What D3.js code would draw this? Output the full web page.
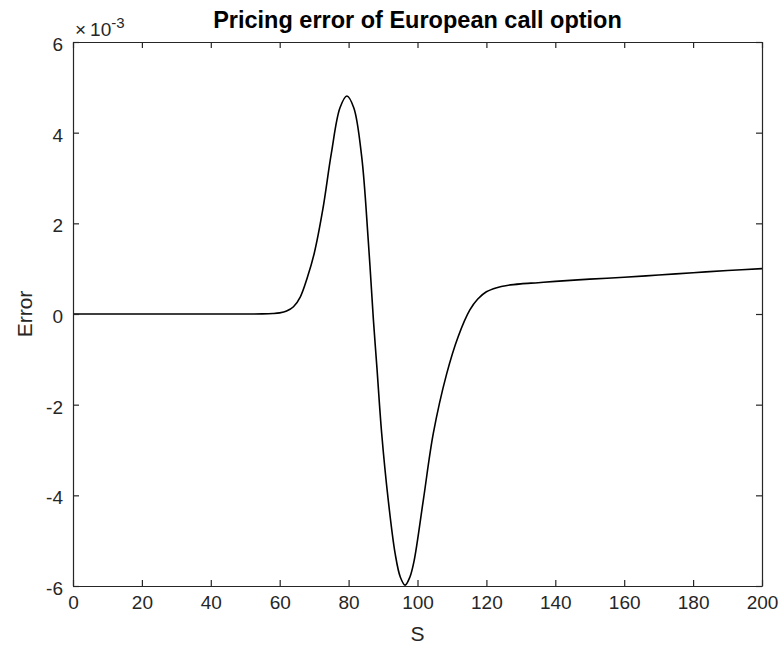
<!DOCTYPE html>
<html>
<head>
<meta charset="utf-8">
<script src="https://cdn.jsdelivr.net/npm/d3@7"></script>
<style>
  html, body { margin: 0; padding: 0; background: #fff; }
  svg { display: block; font-family: "Liberation Sans", Arial, Helvetica, sans-serif; }
</style>
</head>
<body>
<svg id="chart" width="784" height="654"></svg>
<script>
// ---- data (error in units of 1e-3) ----
const sValues = [0, 20, 40, 50, 55, 58, 60, 62, 64, 66, 68, 70, 72.5, 75, 77.5, 79.5, 81.5, 83.8, 85.7, 87.2, 88.2, 89.6, 91.5, 93.5, 95, 96.4, 97.8, 99, 101.7, 104.6, 108.5, 111.8, 115.2, 117.5, 120, 123, 126, 130, 135, 140, 150, 160, 170, 180, 190, 200];
const errValues = [0, 0, 0, 0, 0.002, 0.01, 0.025, 0.065, 0.16, 0.38, 0.8, 1.33, 2.3, 3.55, 4.55, 4.81, 4.55, 3.47, 1.63, -0.13, -1.16, -2.63, -4.1, -5.28, -5.8, -5.98, -5.8, -5.45, -4.1, -2.63, -1.31, -0.5, 0.09, 0.33, 0.49, 0.58, 0.63, 0.665, 0.69, 0.72, 0.77, 0.81, 0.86, 0.91, 0.96, 1.0];
const xTicks = [0, 20, 40, 60, 80, 100, 120, 140, 160, 180, 200];
const yTicks = [-6, -4, -2, 0, 2, 4, 6];
const titleText = "Pricing error of European call option";
const xLabel = "S";
const yLabel = "Error";

const svg = d3.select("#chart");
const L = 73, R = 762, T = 42, B = 586;
const x = d3.scaleLinear().domain([0, 200]).range([L, R]);
const y = d3.scaleLinear().domain([-6, 6]).range([B, T]);
const axisColor = "#262626";
const tickLen = 6;
const fmt = d => String(d);

svg.append("rect").attr("x", L).attr("y", T).attr("width", R - L).attr("height", B - T)
  .attr("fill", "#fff");

// curve
const data = sValues.map((s, i) => ({ s, e: errValues[i] }));
const line = d3.line().x(d => x(d.s)).y(d => y(d.e)).curve(d3.curveCatmullRom.alpha(0.5));
svg.append("path").datum(data).attr("d", line)
  .attr("fill", "none").attr("stroke", "#000").attr("stroke-width", 1.6);

// axes (MATLAB style: ticks inside, box on)
const gBottom = svg.append("g").attr("transform", `translate(0,${B})`)
  .call(d3.axisBottom(x).tickValues(xTicks).tickFormat(fmt).tickSizeInner(-tickLen).tickSizeOuter(0).tickPadding(10));
const gTop = svg.append("g").attr("transform", `translate(0,${T})`)
  .call(d3.axisTop(x).tickValues(xTicks).tickSizeInner(-tickLen).tickSizeOuter(0).tickFormat(""));
const gLeft = svg.append("g").attr("transform", `translate(${L},0)`)
  .call(d3.axisLeft(y).tickValues(yTicks).tickFormat(fmt).tickSizeInner(-tickLen).tickSizeOuter(0).tickPadding(10));
const gRight = svg.append("g").attr("transform", `translate(${R},0)`)
  .call(d3.axisRight(y).tickValues(yTicks).tickSizeInner(-tickLen).tickSizeOuter(0).tickFormat(""));

[gBottom, gTop, gLeft, gRight].forEach(g => {
  g.select(".domain").attr("stroke", axisColor).attr("stroke-width", 1.2);
  g.selectAll(".tick line").attr("stroke", axisColor).attr("stroke-width", 1.2);
  g.selectAll(".tick text").attr("fill", axisColor)
    .style("font-size", "19px").style("font-family", '"Liberation Sans", Arial, sans-serif');
});
gLeft.selectAll(".tick text").attr("dy", "0.45em");

// exponent label
const expo = svg.append("text").attr("x", L + 2).attr("y", 36).attr("fill", axisColor)
  .style("font-size", "19px");
expo.append("tspan").text("\u00D7");
expo.append("tspan").attr("dx", 4).text("10");
expo.append("tspan").attr("dy", -8).style("font-size", "15px").text("-3");

// title
svg.append("text").attr("x", (L + R) / 2).attr("y", 28).attr("text-anchor", "middle")
  .attr("fill", "#000").style("font-size", "23.5px").style("font-weight", "bold").text(titleText);

// x label
svg.append("text").attr("x", (L + R) / 2).attr("y", 641).attr("text-anchor", "middle")
  .attr("fill", axisColor).style("font-size", "21px").text(xLabel);

// y label
svg.append("text").attr("transform", `translate(32,${(T + B) / 2}) rotate(-90)`)
  .attr("text-anchor", "middle").attr("fill", axisColor).style("font-size", "21px").text(yLabel);
</script>
</body>
</html>
